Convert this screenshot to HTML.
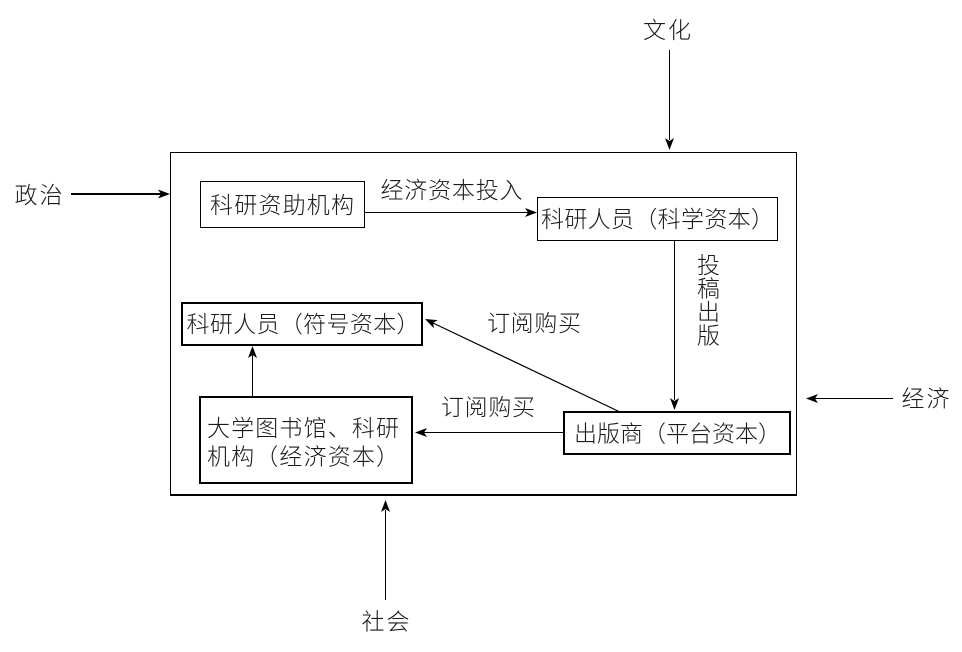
<!DOCTYPE html>
<html><head><meta charset="utf-8">
<style>
html,body{margin:0;padding:0;background:#fff;}
svg{display:block;}
text{font-family:"Liberation Sans","Noto Sans CJK SC","WenQuanYi Zen Hei",sans-serif;font-size:23px;font-weight:300;fill:#1a1a1a;}
</style></head>
<body>
<svg width="962" height="652" viewBox="0 0 962 652" xmlns="http://www.w3.org/2000/svg">
<g fill="none" stroke="#000">
  <!-- outer box -->
  <rect x="170.5" y="152.5" width="626" height="343" stroke-width="1"/>
  <line x1="170" y1="495" x2="797" y2="495" stroke-width="2"/>
  <!-- boxes -->
  <rect x="200.5" y="181.5" width="164" height="46" stroke-width="1"/>
  <rect x="537.5" y="197.5" width="240" height="43" stroke-width="1"/>
  <rect x="182" y="303" width="240" height="42" stroke-width="2"/>
  <rect x="200" y="397" width="212" height="86" stroke-width="2"/>
  <rect x="564" y="412" width="226" height="42" stroke-width="2"/>
  <!-- connector lines -->
  <line x1="71" y1="194" x2="161" y2="194" stroke-width="2"/>
  <line x1="669.5" y1="50" x2="669.5" y2="140" stroke-width="1"/>
  <line x1="893" y1="398.5" x2="815" y2="398.5" stroke-width="1"/>
  <line x1="385.5" y1="600" x2="385.5" y2="510" stroke-width="1"/>
  <line x1="365" y1="212.5" x2="528" y2="212.5" stroke-width="1"/>
  <line x1="674.5" y1="241" x2="674.5" y2="400" stroke-width="1"/>
  <line x1="564" y1="432.5" x2="424" y2="432.5" stroke-width="1"/>
  <line x1="620" y1="412" x2="433" y2="323" stroke-width="1.2"/>
  <line x1="252.5" y1="397" x2="252.5" y2="355" stroke-width="1"/>
</g>
<g fill="#000" stroke="none">
  <!-- arrowheads -->
  <polygon points="170,194 158,189.5 161,194 158,198.5"/>
  <polygon points="669.5,150 665,138 669.5,141 674,138"/>
  <polygon points="806,398.5 818,394 815,398.5 818,403"/>
  <polygon points="385.5,500 381,512 385.5,509 390,512"/>
  <polygon points="537,212.5 525,208 528,212.5 525,217"/>
  <polygon points="674.5,410 670,398 674.5,401 679,398"/>
  <polygon points="415,432.5 427,428 424,432.5 427,437"/>
  <polygon points="425,319 433.9,328.3 433.1,322.9 437.7,320.1"/>
  <polygon points="252.5,346 248,358 252.5,355 257,358"/>
</g>
<!-- box texts -->
<text x="282" y="205" text-anchor="middle" dominant-baseline="central" textLength="144" lengthAdjust="spacing">科研资助机构</text>
<text x="657.5" y="219" text-anchor="middle" dominant-baseline="central" textLength="233" lengthAdjust="spacing">科研人员（科学资本）</text>
<text x="303" y="324" text-anchor="middle" dominant-baseline="central" textLength="233" lengthAdjust="spacing">科研人员（符号资本）</text>
<text x="677.5" y="433.5" text-anchor="middle" dominant-baseline="central" textLength="207" lengthAdjust="spacing">出版商（平台资本）</text>
<text x="207" y="428" dominant-baseline="central" textLength="192" lengthAdjust="spacing">大学图书馆、科研</text>
<text x="207" y="456.5" dominant-baseline="central" textLength="192" lengthAdjust="spacing">机构（经济资本）</text>
<!-- connector labels -->
<text x="380.5" y="190" dominant-baseline="central" textLength="142" lengthAdjust="spacing">经济资本投入</text>
<text x="487" y="323" dominant-baseline="central" textLength="94" lengthAdjust="spacing">订阅购买</text>
<text x="441" y="407" dominant-baseline="central" textLength="94" lengthAdjust="spacing">订阅购买</text>
<text x="708.5" y="265" text-anchor="middle" dominant-baseline="central">投</text>
<text x="708.5" y="288.5" text-anchor="middle" dominant-baseline="central">稿</text>
<text x="708.5" y="312" text-anchor="middle" dominant-baseline="central">出</text>
<text x="708.5" y="335.5" text-anchor="middle" dominant-baseline="central">版</text>
<!-- outer labels -->
<text x="667" y="30" text-anchor="middle" dominant-baseline="central" textLength="48" lengthAdjust="spacing">文化</text>
<text x="38.5" y="195" text-anchor="middle" dominant-baseline="central" textLength="48" lengthAdjust="spacing">政治</text>
<text x="925.5" y="398.5" text-anchor="middle" dominant-baseline="central" textLength="48" lengthAdjust="spacing">经济</text>
<text x="385.5" y="621.5" text-anchor="middle" dominant-baseline="central" textLength="48" lengthAdjust="spacing">社会</text>
</svg>
</body></html>
